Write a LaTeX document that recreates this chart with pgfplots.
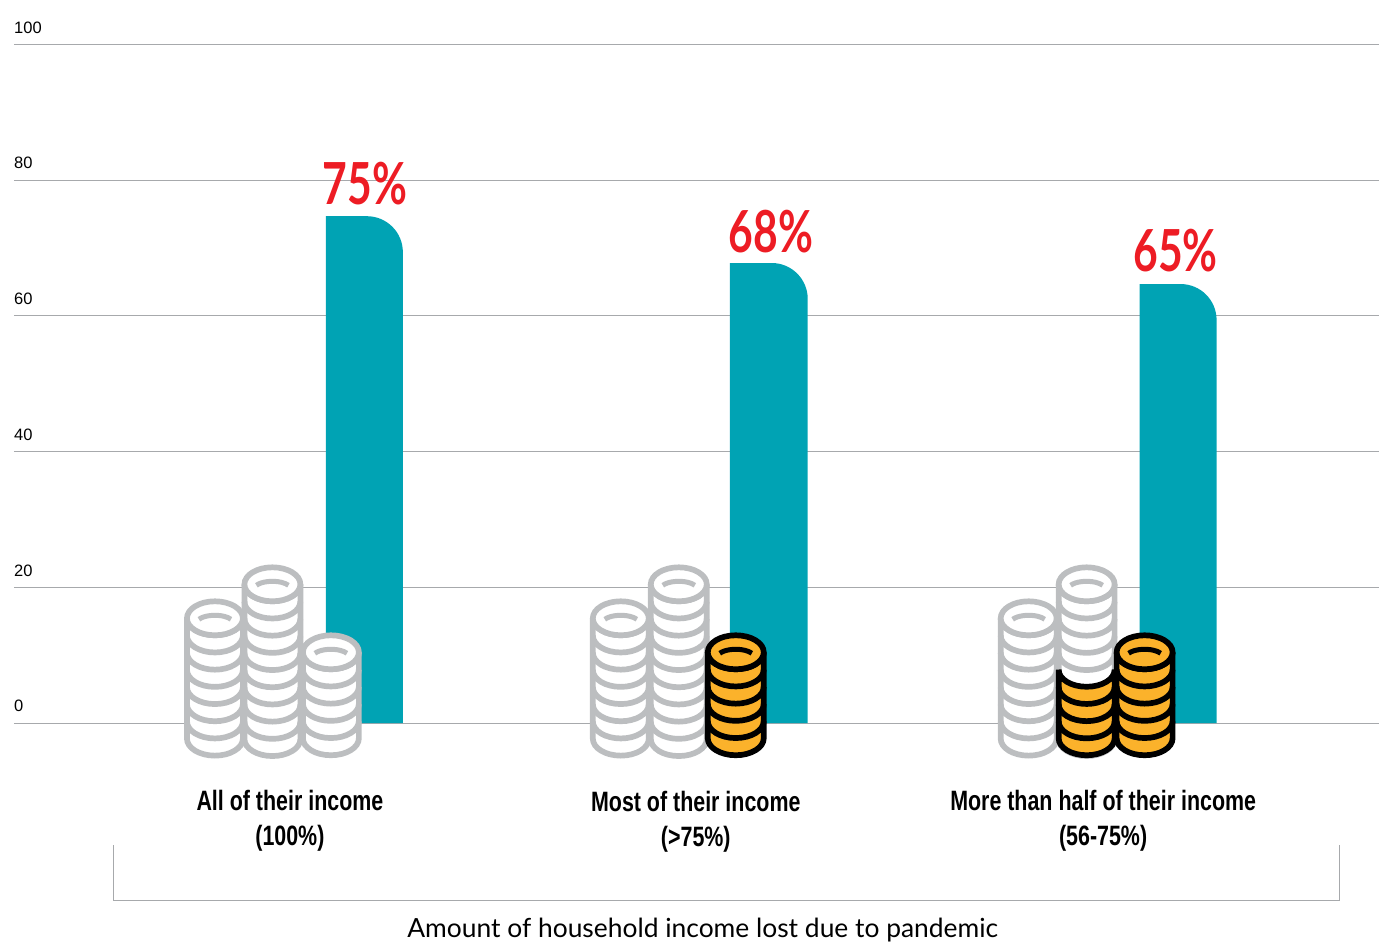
\documentclass[border=0pt]{standalone}
\usepackage{pgfplots}
\pgfplotsset{compat=1.18}
\usepackage{fontspec}
\setmainfont{Lato}
\newfontfamily\condb[FakeStretch=0.765]{Liberation Sans}
\newfontfamily\condl[FakeStretch=0.735]{Lato}
\newfontfamily\tickf{Liberation Sans}
\definecolor{barc}{HTML}{00A3B4}
\definecolor{gridc}{HTML}{A7A9AC}
\definecolor{coing}{HTML}{BCBEC0}
\definecolor{coiny}{HTML}{FBB22B}
\definecolor{redc}{HTML}{ED1C24}
\newcommand{\coinbar}[3]{%
  \addplot[draw=none,fill=barc] coordinates {(#1,0) (#1,#3)} [rounded corners=36pt] -- (axis cs:#2,#3) [sharp corners] -- (axis cs:#2,0) -- cycle;
}
% cx, top-ellipse centre y (px), number of spacings, colour, fill
\newcommand{\coinstack}[5]{%
  \pgfmathsetmacro\cx{#1}\pgfmathsetmacro\yc{941-#2}\pgfmathsetmacro\yb{\yc-17.2*#3}
  \fill[#5] (\cx-28,\yc) -- (\cx-28,\yb) arc[start angle=180,end angle=360,x radius=28,y radius=17] -- (\cx+28,\yc) -- cycle;
  \draw[#4,line width=5.7pt] (\cx-28,\yc) -- (\cx-28,\yb) arc[start angle=180,end angle=360,x radius=28,y radius=17] -- (\cx+28,\yc);
  \foreach \i in {1,...,#3}{
    \pgfmathsetmacro\yy{\yc-17.2*(\i-1)}
    \draw[#4,line width=5.7pt] (\cx-28,\yy) arc[start angle=180,end angle=360,x radius=28,y radius=17];
  }
  \draw[#4,fill=#5,line width=5.7pt] (\cx,\yc) ellipse[x radius=28,y radius=17];
  \draw[#4,line width=5pt] (\cx-16,\yc-1) arc[start angle=150,end angle=30,x radius=18.5,y radius=8];
}
\begin{document}
\begin{tikzpicture}[x=1pt,y=1pt]
\path (0,0) rectangle (1379,941);
\begin{axis}[
  at={(14pt,0pt)},anchor=south west,
  scale only axis,width=1365pt,height=941pt,
  xmin=14,xmax=1379,ymin=-32.07,ymax=106.56,
  axis line style={draw=none},
  xtick=\empty,
  ytick={0,20,40,60,80,100},
  tick style={draw=none},
  ymajorgrids=true,
  grid style={gridc,line width=0.9pt},
  yticklabel style={anchor=south west,inner sep=0pt,xshift=0pt,yshift=11pt,font=\fontsize{16.5}{16.5}\selectfont\tickf},
  /pgf/number format/assume math mode=true,
  clip=false,
]
\coinbar{326}{403}{74.7}
\coinbar{730}{808}{67.8}
\coinbar{1140}{1217}{64.7}
\node[anchor=center,text=redc,font=\fontsize{58}{58}\selectfont\condl\bfseries] at (axis cs:365,79.5) {75\%};
\node[anchor=center,text=redc,font=\fontsize{58}{58}\selectfont\condl\bfseries] at (axis cs:771,72.5) {68\%};
\node[anchor=center,text=redc,font=\fontsize{58}{58}\selectfont\condl\bfseries] at (axis cs:1176,69.6) {65\%};
\node[align=center,font=\fontsize{28}{35}\selectfont\condb\bfseries] at (axis cs:290,-14.4) {All of their income\\(100\%)};
\node[align=center,font=\fontsize{28}{35}\selectfont\condb\bfseries] at (axis cs:696,-14.6) {Most of their income\\(>75\%)};
\node[align=center,font=\fontsize{28}{35}\selectfont\condb\bfseries] at (axis cs:1103.5,-14.4) {More than half of their income\\(56-75\%)};
\node[font=\fontsize{26.4}{27}\selectfont] at (axis cs:703,-30.5) {Amount of household income lost due to pandemic};
\addplot[gridc,line width=1pt] coordinates {(114,-18) (114,-26.1) (1340,-26.1) (1340,-18)};
\end{axis}
\coinstack{215}{618.5}{7}{coing}{white}
\coinstack{272.5}{584.5}{9}{coing}{white}
\coinstack{331}{652.5}{5}{coing}{white}
\coinstack{621}{618.5}{7}{coing}{white}
\coinstack{679}{584.5}{9}{coing}{white}
\coinstack{736}{652.5}{5}{black}{coiny}
\coinstack{1029}{618.5}{7}{coing}{white}
\coinstack{1087}{584.5}{9}{coing}{white}
% gold lower part of the middle stack
\pgfmathsetmacro\cx{1087}\pgfmathsetmacro\yt{941-670}\pgfmathsetmacro\yb{941-738.5}
\fill[coiny] (\cx-28,\yt) arc[start angle=180,end angle=360,x radius=28,y radius=17] -- (\cx+28,\yb) arc[start angle=360,end angle=180,x radius=28,y radius=17] -- cycle;
\draw[black,line width=5.7pt] (\cx-28,\yt) arc[start angle=180,end angle=360,x radius=28,y radius=17] -- (\cx+28,\yb) arc[start angle=360,end angle=180,x radius=28,y radius=17] -- cycle;
\foreach \yy in {687.2,704.4,721.6}{\pgfmathsetmacro\yz{941-\yy}
  \draw[black,line width=5.7pt] (\cx-28,\yz) arc[start angle=180,end angle=360,x radius=28,y radius=17];}
\coinstack{1145}{652.5}{5}{black}{coiny}
\end{tikzpicture}
\end{document}
